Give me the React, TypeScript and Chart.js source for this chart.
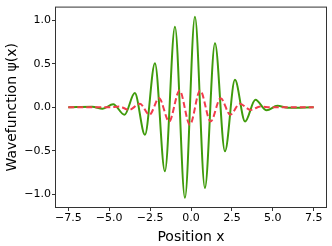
import React, { useEffect, useRef } from "react";
import { Chart, registerables } from "chart.js";

Chart.register(...registerables);

// Green solid series (read at extrema)
const greenX = [-7.5, -6.045, -5.405, -4.755, -4.065, -3.435, -2.815, -2.205, -1.595, -0.98, -0.37, 0.24, 0.85, 1.465, 2.075, 2.685, 3.305, 3.935, 4.625, 5.275, 5.915, 7.5];
const greenY = [0, 0.006, -0.017, 0.035, -0.086, 0.163, -0.315, 0.506, -0.735, 0.926, -1.04, 1.04, -0.926, 0.735, -0.506, 0.315, -0.163, 0.086, -0.035, 0.017, -0.006, 0];

// Red dashed series (read at extrema)
const redX = [-7.5, -5.0, -4.37, -3.79, -3.12, -2.54, -1.95, -1.34, -0.7, -0.07, 0.56, 1.2, 1.81, 2.4, 2.98, 3.65, 4.23, 4.9, 7.5];
const redY = [0, 0, 0.008, -0.03, 0.04, -0.086, 0.105, -0.163, 0.193, -0.2, 0.193, -0.163, 0.105, -0.086, 0.04, -0.03, 0.008, 0, 0];

const xTicks = [-7.5, -5, -2.5, 0, 2.5, 5, 7.5];
const yTicks = [-1, -0.5, 0, 0.5, 1];

const xTitle = "Position x";
const yTitle = "Wavefunction \u03C8(x)";

const FAMILY = "'DejaVu Sans', sans-serif";

const fmt = (v: number | string) => {
  const n = Number(v);
  return (n < 0 ? "\u2212" : "") + Math.abs(n).toFixed(1);
};

const framePlugin = {
  id: "frame",
  afterDatasetsDraw(chart: any) {
    const { ctx, chartArea: a } = chart;
    ctx.save();
    ctx.strokeStyle = "#333";
    ctx.lineWidth = 1;
    ctx.strokeRect(a.left - 0.5, a.top - 0.5, a.right - a.left + 1, a.bottom - a.top + 1);
    ctx.restore();
  },
};

export default function App() {
  const ref = useRef<HTMLCanvasElement | null>(null);

  useEffect(() => {
    document.body.style.margin = "0";
    const canvas = ref.current;
    if (!canvas) return;
    const chart = new Chart(canvas, {
      type: "line",
      data: {
        datasets: [
          {
            data: redX.map((x, i) => ({ x, y: redY[i] })),
            borderColor: "#f23c4c",
            borderWidth: 2,
            borderDash: [6, 3],
            pointRadius: 0,
            cubicInterpolationMode: "monotone",
            fill: false,
          },
          {
            data: greenX.map((x, i) => ({ x, y: greenY[i] })),
            borderColor: "#3f9b0b",
            borderWidth: 2,
            pointRadius: 0,
            cubicInterpolationMode: "monotone",
            fill: false,
          },
        ],
      },
      options: {
        responsive: false,
        animation: false,
        devicePixelRatio: 1,
        layout: { padding: { top: 7, right: 6, left: 0, bottom: 0 } },
        plugins: { legend: { display: false }, tooltip: { enabled: false } },
        scales: {
          x: {
            type: "linear",
            min: -8.25,
            max: 8.25,
            afterBuildTicks: (s: any) => {
              s.ticks = xTicks.map((v) => ({ value: v }));
            },
            afterFit: (s: any) => {
              s.height = 39;
            },
            ticks: {
              font: { family: FAMILY, size: 11 },
              color: "#000",
              padding: 1,
              maxRotation: 0,
              autoSkip: false,
              callback: fmt,
            },
            grid: { drawOnChartArea: false, drawTicks: true, tickLength: 4, tickColor: "#333" },
            border: { display: false },
            title: {
              display: true,
              text: xTitle,
              font: { family: FAMILY, size: 14 },
              color: "#000",
              padding: { top: 0, bottom: 0 },
            },
          },
          y: {
            type: "linear",
            min: -1.145,
            max: 1.145,
            afterBuildTicks: (s: any) => {
              s.ticks = yTicks.map((v) => ({ value: v }));
            },
            afterFit: (s: any) => {
              s.width = 56;
            },
            ticks: {
              font: { family: FAMILY, size: 11 },
              color: "#000",
              padding: 1,
              autoSkip: false,
              callback: fmt,
            },
            grid: { drawOnChartArea: false, drawTicks: true, tickLength: 4, tickColor: "#333" },
            border: { display: false },
            title: {
              display: true,
              text: yTitle,
              font: { family: FAMILY, size: 14 },
              color: "#000",
              padding: { top: 4, bottom: 0 },
            },
          },
        },
      },
      plugins: [framePlugin],
    } as any);
    return () => chart.destroy();
  }, []);

  return (
    <div style={{ width: 332, height: 246 }}>
      <canvas ref={ref} width={332} height={246} style={{ display: "block", width: 332, height: 246 }} />
    </div>
  );
}
